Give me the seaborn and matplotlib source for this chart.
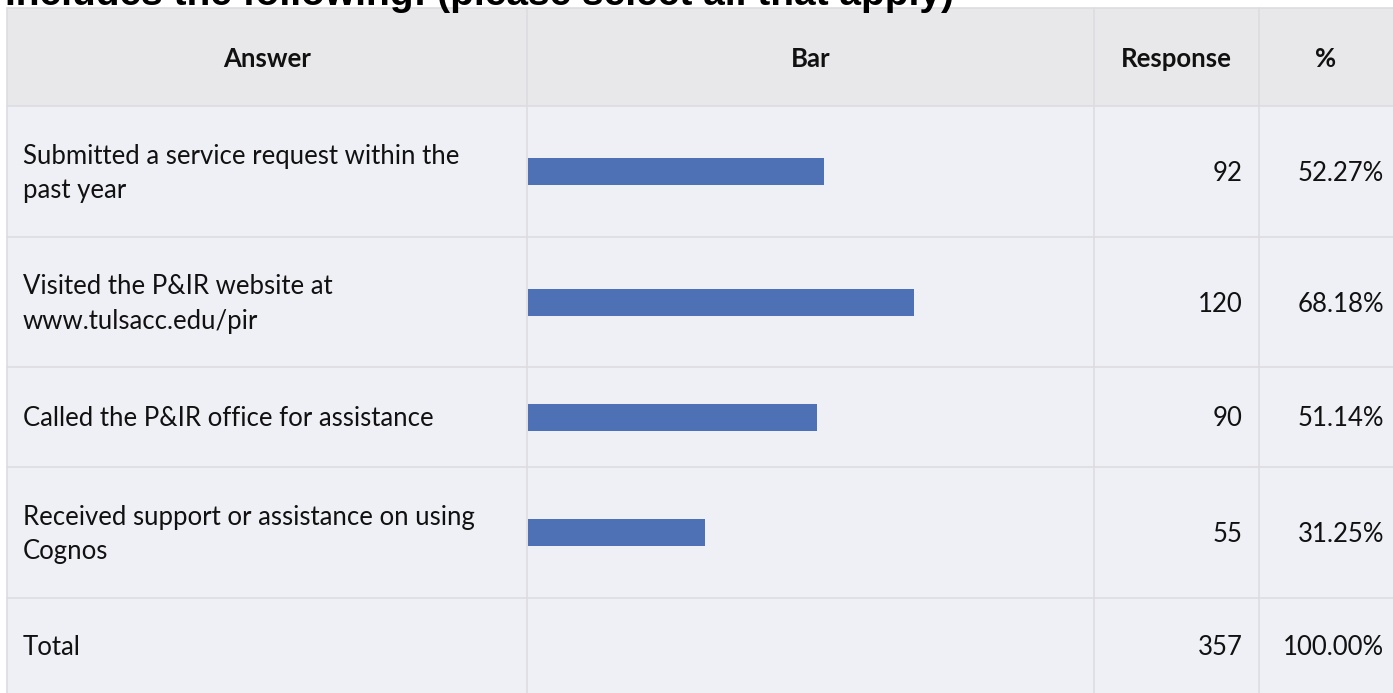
import numpy as np
import pandas as pd
import matplotlib
matplotlib.use('Agg')
import matplotlib.pyplot as plt
import seaborn as sns

# ---------------- Data ----------------
title = "Includes the following: (please select all that apply)"
headers = ["Answer", "Bar", "Response", "%"]
answers = [
    "Submitted a service request within the\npast year",
    "Visited the P&IR website at\nwww.tulsacc.edu/pir",
    "Called the P&IR office for assistance",
    "Received support or assistance on using\nCognos",
]
responses = [92, 120, 90, 55]
percents = [52.27, 68.18, 51.14, 31.25]
total_label = "Total"
total_responses = 357
total_percent = 100.00
n_respondents = 176  # bar column spans 0..100% of respondents

# ---------------- Style ----------------
sns.set_theme(style="white")
plt.rcParams['font.family'] = ['Lato', 'DejaVu Sans']

W, H = 1393, 693
header_bg = "#E8E8EA"
body_bg = "#EFF0F5"
grid_c = "#DCDCE1"
bar_c = "#4E70B4"
text_c = "#111111"

col_x = [7, 527, 1094, 1259, 1393]
row_y = [8, 105.5, 237, 367, 467, 598, 693]

fig = plt.figure(figsize=(W / 100, H / 100), dpi=100)
ax = fig.add_axes([0, 0, 1, 1])
ax.set_xlim(0, W)
ax.set_ylim(H, 0)
ax.axis('off')

# backgrounds
ax.add_patch(plt.Rectangle((col_x[0], row_y[0]), W - col_x[0], row_y[1] - row_y[0],
                           facecolor=header_bg, edgecolor='none'))
ax.add_patch(plt.Rectangle((col_x[0], row_y[1]), W - col_x[0], H - row_y[1],
                           facecolor=body_bg, edgecolor='none'))
# grid
for x in col_x[:-1]:
    ax.plot([x, x], [row_y[0], H], color=grid_c, lw=1.2)
for y in row_y[:-1]:
    ax.plot([col_x[0], W], [y, y], color=grid_c, lw=1.2)

# title (cut off at top in the original)
ax.text(5, 5, title, fontsize=28, fontweight='bold', family='Liberation Sans',
        va='baseline', ha='left', color='black')

# header
fs = 18.5
hy = (row_y[0] + row_y[1]) / 2 + 2
for i, h in enumerate(headers):
    cx = (col_x[i] + col_x[i + 1]) / 2
    ax.text(cx, hy, h, fontsize=fs, fontweight='bold', ha='center', va='center',
            color=text_c)

labels_all = answers + [total_label]
resp_all = responses + [total_responses]
pct_all = percents + [total_percent]
for r in range(5):
    cy = (row_y[r + 1] + row_y[r + 2]) / 2 + 2
    ax.text(col_x[0] + 16, cy, labels_all[r], fontsize=fs, ha='left', va='center',
            linespacing=1.45, color=text_c)
    ax.text(col_x[3] - 16, cy, f"{resp_all[r]}", fontsize=fs, ha='right', va='center',
            color=text_c)
    ax.text(W - 9, cy, f"{pct_all[r]:.2f}%", fontsize=fs, ha='right', va='center',
            color=text_c)

# bars, one small axes per row
bar_px = 27
for r in range(4):
    y0, y1 = row_y[r + 1], row_y[r + 2]
    bax = fig.add_axes([(col_x[1] + 1) / W, 1 - y1 / H,
                        (col_x[2] - col_x[1] - 1) / W, (y1 - y0) / H])
    df = pd.DataFrame({"answer": [answers[r]], "response": [responses[r]]})
    sns.barplot(data=df, x="response", y="answer", orient='h', color=bar_c,
                saturation=1, width=bar_px / (y1 - y0), linewidth=0, ax=bax)
    bax.set_xlim(0, n_respondents)
    bax.axis('off')

fig.savefig("out.png", dpi=100)
